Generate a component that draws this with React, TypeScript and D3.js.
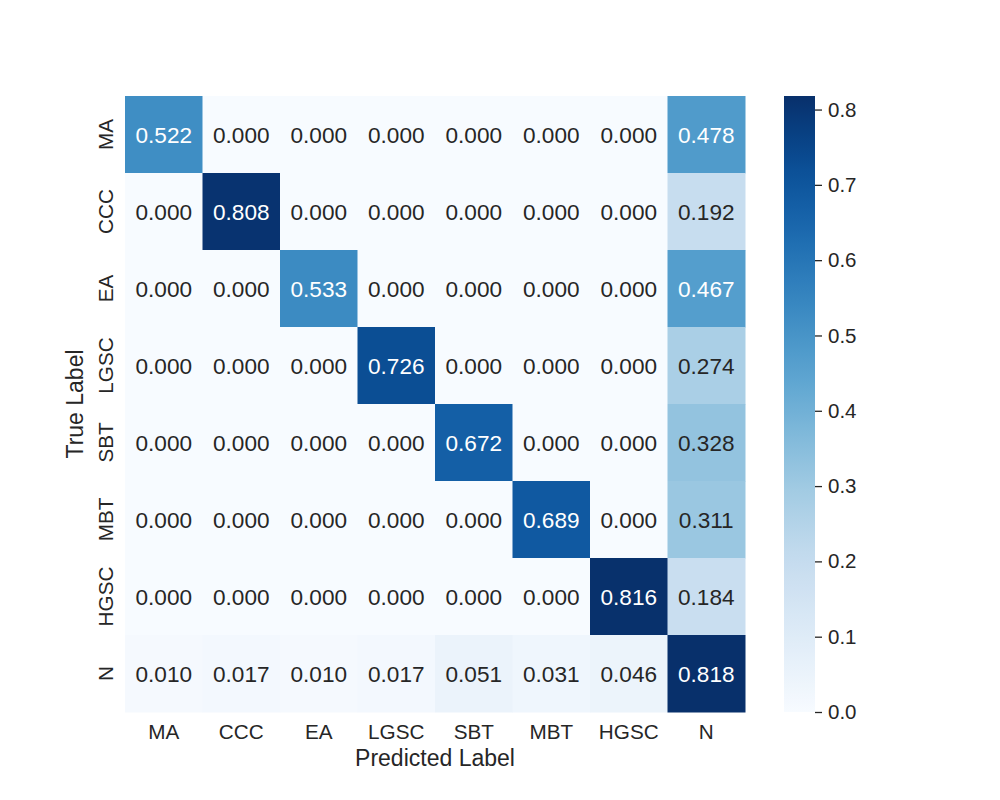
import React, { useEffect, useRef } from 'react';
import * as d3 from 'd3';

const labels = ['MA', 'CCC', 'EA', 'LGSC', 'SBT', 'MBT', 'HGSC', 'N'];

const rowMA = [0.522, 0.0, 0.0, 0.0, 0.0, 0.0, 0.0, 0.478];
const rowCCC = [0.0, 0.808, 0.0, 0.0, 0.0, 0.0, 0.0, 0.192];
const rowEA = [0.0, 0.0, 0.533, 0.0, 0.0, 0.0, 0.0, 0.467];
const rowLGSC = [0.0, 0.0, 0.0, 0.726, 0.0, 0.0, 0.0, 0.274];
const rowSBT = [0.0, 0.0, 0.0, 0.0, 0.672, 0.0, 0.0, 0.328];
const rowMBT = [0.0, 0.0, 0.0, 0.0, 0.0, 0.689, 0.0, 0.311];
const rowHGSC = [0.0, 0.0, 0.0, 0.0, 0.0, 0.0, 0.816, 0.184];
const rowN = [0.010, 0.017, 0.010, 0.017, 0.051, 0.031, 0.046, 0.818];

const matrix = [rowMA, rowCCC, rowEA, rowLGSC, rowSBT, rowMBT, rowHGSC, rowN];
const colorbarTicks = [0.0, 0.1, 0.2, 0.3, 0.4, 0.5, 0.6, 0.7, 0.8];

const width = 1000;
const height = 800;
const plot = { left: 125, top: 96, right: 745, bottom: 712 };
const cbar = { left: 784, right: 815 };
const font = 'Arial, "Liberation Sans", sans-serif';
const textDark = '#262626';

const App = () => {
  const chartRef = useRef(null);

  useEffect(() => {
    const svg = d3.select(chartRef.current);
    svg.selectAll('*').remove();

    const vmax = d3.max(matrix, row => d3.max(row));
    const color = d3.scaleSequential(d3.interpolateBlues).domain([0, vmax]);

    const xScale = d3.scaleBand().domain(labels).range([plot.left, plot.right]);
    const yScale = d3.scaleBand().domain(labels).range([plot.top, plot.bottom]);

    const cells = matrix.flatMap((row, i) =>
      row.map((value, j) => ({ row: labels[i], col: labels[j], value }))
    );

    const g = svg.append('g');

    g.selectAll('rect')
      .data(cells)
      .join('rect')
      .attr('x', d => xScale(d.col))
      .attr('y', d => yScale(d.row))
      .attr('width', xScale.bandwidth() + 0.5)
      .attr('height', yScale.bandwidth() + 0.5)
      .attr('fill', d => color(d.value));

    g.selectAll('text.annot')
      .data(cells)
      .join('text')
      .attr('class', 'annot')
      .attr('x', d => xScale(d.col) + xScale.bandwidth() / 2)
      .attr('y', d => yScale(d.row) + yScale.bandwidth() / 2 + 8)
      .attr('text-anchor', 'middle')
      .attr('font-family', font)
      .attr('font-size', 22.6)
      .attr('fill', d => (d.value > 0.4 ? '#ffffff' : textDark))
      .text(d => d.value.toFixed(3));

    // x tick labels
    svg.append('g')
      .selectAll('text')
      .data(labels)
      .join('text')
      .attr('x', d => xScale(d) + xScale.bandwidth() / 2)
      .attr('y', 738.5)
      .attr('text-anchor', 'middle')
      .attr('font-family', font)
      .attr('font-size', 20.7)
      .attr('fill', textDark)
      .text(d => d);

    // y tick labels (rotated)
    svg.append('g')
      .selectAll('text')
      .data(labels)
      .join('text')
      .attr('transform', d => `translate(112.5, ${yScale(d) + yScale.bandwidth() / 2}) rotate(-90)`)
      .attr('text-anchor', 'middle')
      .attr('font-family', font)
      .attr('font-size', 20.7)
      .attr('fill', textDark)
      .text(d => d);

    svg.append('text')
      .attr('x', (plot.left + plot.right) / 2)
      .attr('y', 766)
      .attr('text-anchor', 'middle')
      .attr('font-family', font)
      .attr('font-size', 23)
      .attr('fill', textDark)
      .text('Predicted Label');

    svg.append('text')
      .attr('transform', `translate(83, ${(plot.top + plot.bottom) / 2}) rotate(-90)`)
      .attr('text-anchor', 'middle')
      .attr('font-family', font)
      .attr('font-size', 23)
      .attr('fill', textDark)
      .text('True Label');

    // colorbar
    const cScale = d3.scaleLinear().domain([0, vmax]).range([plot.bottom, plot.top]);
    const grad = svg.append('defs')
      .append('linearGradient')
      .attr('id', 'cbar-grad')
      .attr('x1', 0).attr('y1', 1).attr('x2', 0).attr('y2', 0);
    grad.selectAll('stop')
      .data(d3.range(0, 1.0001, 0.02))
      .join('stop')
      .attr('offset', t => t)
      .attr('stop-color', t => color(t * vmax));

    svg.append('rect')
      .attr('x', cbar.left)
      .attr('y', plot.top)
      .attr('width', cbar.right - cbar.left)
      .attr('height', plot.bottom - plot.top)
      .attr('fill', 'url(#cbar-grad)');

    const axis = d3.axisRight(cScale)
      .tickValues(colorbarTicks)
      .tickFormat(d3.format('.1f'))
      .tickSize(7)
      .tickPadding(6);

    svg.append('g')
      .attr('transform', `translate(${cbar.right}, 0)`)
      .call(axis)
      .call(a => a.select('.domain').remove())
      .call(a => a.selectAll('line').attr('stroke', textDark).attr('stroke-width', 1.3))
      .call(a => a.selectAll('text')
        .attr('font-family', font)
        .attr('font-size', 20.5)
        .attr('fill', textDark));
  });

  return (
    <svg
      ref={chartRef}
      width={width}
      height={height}
      viewBox={`0 0 ${width} ${height}`}
      style={{ position: 'absolute', left: 0, top: 0, background: '#ffffff' }}
    />
  );
};

export default App;
